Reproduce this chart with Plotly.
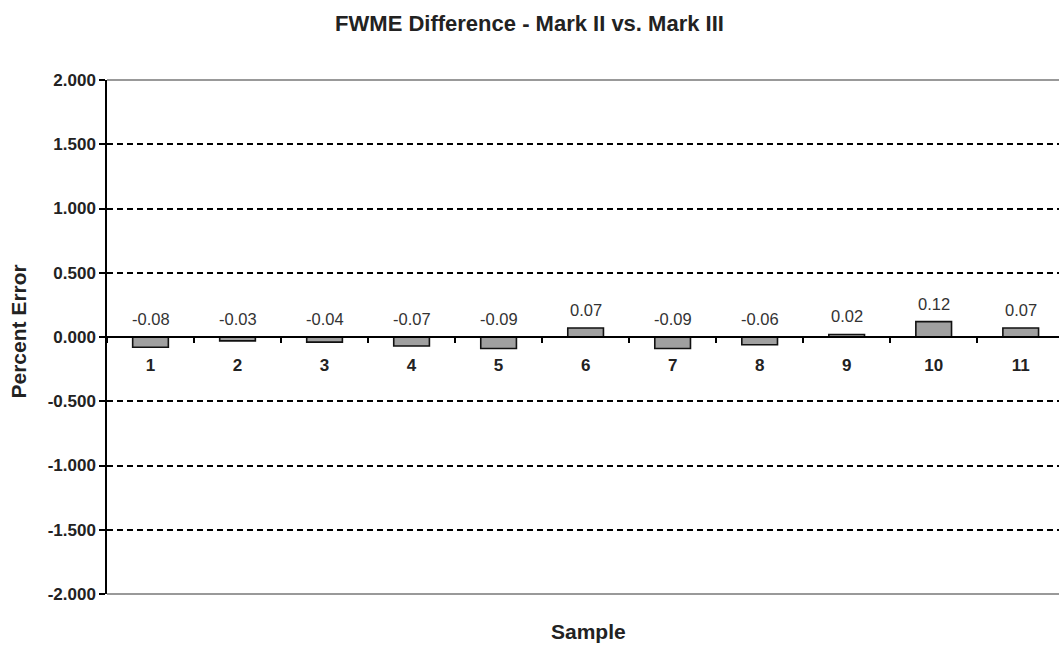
import plotly.graph_objects as go

samples = ["1", "2", "3", "4", "5", "6", "7", "8", "9", "10", "11"]
diff = [-0.08, -0.03, -0.04, -0.07, -0.09, 0.07, -0.09, -0.06, 0.02, 0.12, 0.07]
ytick_vals = [2.0, 1.5, 1.0, 0.5, 0.0, -0.5, -1.0, -1.5, -2.0]
ytick_text = ["2.000", "1.500", "1.000", "0.500", "0.000", "-0.500", "-1.000", "-1.500", "-2.000"]
value_labels = ["%.2f" % v for v in diff]

FONT = "Liberation Sans, Arial, sans-serif"

fig = go.Figure()
fig.add_trace(go.Bar(
    x=samples, y=diff, width=0.41,
    marker=dict(color="#a0a0a0", line=dict(color="#111111", width=1.6)),
    hoverinfo="skip", showlegend=False,
))

# annotations on a category axis are positioned by category index
annotations = [
    dict(x=i, y=max(v, 0), xref="x", yref="y", text=t, showarrow=False,
         yanchor="bottom", yshift=7,
         font=dict(family=FONT, size=16.5, color="#333333"))
    for i, (v, t) in enumerate(zip(diff, value_labels))
]
annotations += [
    dict(text="<b>Percent Error</b>", textangle=-90, xref="paper", yref="paper",
         x=(17.5 - 107) / 952, y=(594 - 332) / 514, xanchor="center", yanchor="middle",
         showarrow=False, font=dict(family=FONT, size=21, color="#222222")),
    dict(text="<b>Sample</b>", xref="paper", yref="paper",
         x=(588 - 107) / 952, y=(594 - 631) / 514, xanchor="center", yanchor="middle",
         showarrow=False, font=dict(family=FONT, size=21, color="#222222")),
]

fig.update_layout(
    width=1059, height=646,
    margin=dict(l=107, r=0, t=80, b=52),
    paper_bgcolor="white", plot_bgcolor="white",
    title=dict(text="<b>FWME Difference - Mark II vs. Mark III</b>", x=0.5, xref="container",
               y=1 - 23 / 646, yanchor="middle", yref="container",
               font=dict(family=FONT, size=22, color="#222222")),
    xaxis=dict(type="category", range=[-0.5, 10.44], anchor="free", position=0.5,
               showline=True, linecolor="black", linewidth=1.5,
               ticks="outside", tickson="boundaries", ticklen=5, tickwidth=1.5, tickcolor="black",
               tickfont=dict(family=FONT, size=17, color="#222222", weight="bold"),
               ticklabelstandoff=13, showgrid=False, zeroline=False),
    yaxis=dict(range=[-2, 2], tickvals=ytick_vals, ticktext=ytick_text,
               showline=True, linecolor="black", linewidth=1.5,
               ticks="outside", ticklen=6, tickwidth=1.5, tickcolor="black",
               tickfont=dict(family=FONT, size=17, color="#222222", weight="bold"),
               showgrid=True, gridcolor="black", gridwidth=1.5, griddash="6px,4px",
               zeroline=False),
    shapes=[
        dict(type="line", xref="x domain", yref="y domain", x0=0, x1=1, y0=1, y1=1,
             line=dict(color="#999999", width=2), layer="above"),
        dict(type="line", xref="x domain", yref="y domain", x0=0, x1=1, y0=0, y1=0,
             line=dict(color="#999999", width=2), layer="above"),
    ],
    annotations=annotations,
)

fig.write_html("out.html")
